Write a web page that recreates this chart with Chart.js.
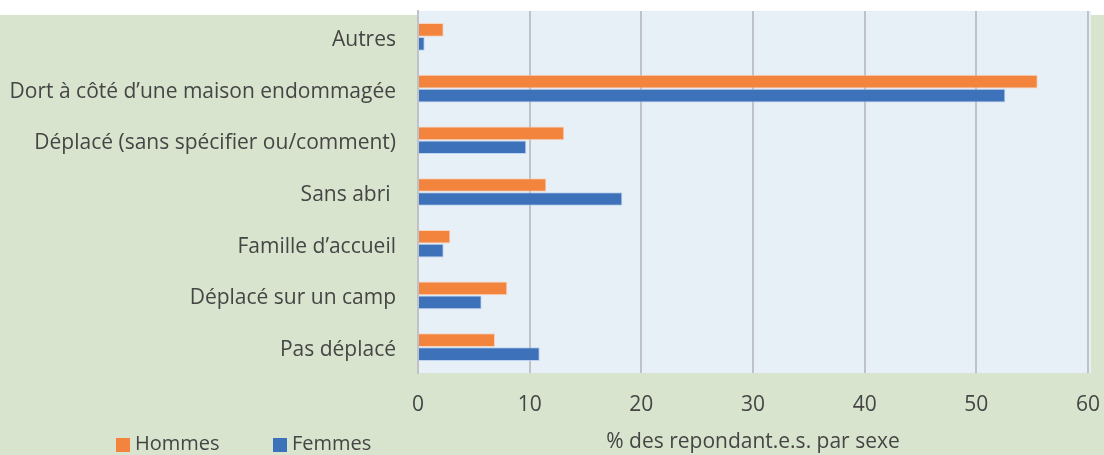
<!DOCTYPE html>
<html lang="fr">
<head>
<meta charset="utf-8">
<script src="https://cdn.jsdelivr.net/npm/chart.js@4.4.1/dist/chart.umd.min.js"></script>
<style>
  html, body { margin: 0; padding: 0; background: #ffffff; }
  #wrap { width: 1104px; height: 455px; position: relative; }
</style>
</head>
<body>
<div id="wrap"><canvas id="chart" width="1104" height="455"></canvas></div>
<script>
// Situation de logement, % des répondant.e.s par sexe
const categories = [
  'Autres',
  'Dort à côté d\u2019une maison endommagée',
  'Déplacé (sans spécifier ou/comment)',
  'Sans abri ',
  'Famille d\u2019accueil',
  'Déplacé sur un camp',
  'Pas déplacé'
];
const hommes = [2.3, 55.5, 13.1, 11.5, 2.9, 8.0, 6.9];
const femmes = [0.6, 52.6, 9.7, 18.3, 2.3, 5.7, 10.9];
const xTicks = [0, 10, 20, 30, 40, 50, 60];
const seriesNames = ['Hommes', 'Femmes'];
const axisTitle = '% des repondant.e.s. par sexe';

const ORANGE = '#F2843D';
const BLUE = '#3D72BA';
const PAGE_GREEN = '#D8E4CD';
const PLOT_BG = '#E8F0F7';
const GRID = '#BFC2C6';
const TEXT = '#454545';
const FONT = '"Open Sans", "Liberation Sans", sans-serif';

// Page background, plot panel, legend and axis title
const decor = {
  id: 'decor',
  beforeDraw(chart) {
    const { ctx, chartArea: a, width, height } = chart;
    ctx.save();
    ctx.fillStyle = '#ffffff';
    ctx.fillRect(0, 0, width, height);
    ctx.fillStyle = PAGE_GREEN;
    ctx.fillRect(0, 15, width, height - 15);
    ctx.fillStyle = PLOT_BG;
    ctx.fillRect(a.left, a.top, a.right - a.left + 3, a.bottom - a.top);
    ctx.restore();
  },
  afterDraw(chart) {
    const { ctx, chartArea: a } = chart;
    ctx.save();
    ctx.fillStyle = TEXT;
    ctx.textBaseline = 'middle';
    // legend
    ctx.font = '20px ' + FONT;
    const items = [
      { x: 116, ds: chart.data.datasets[0] },
      { x: 273, ds: chart.data.datasets[1] }
    ];
    items.forEach(it => {
      ctx.fillStyle = it.ds.backgroundColor;
      ctx.fillRect(it.x, 438, 14, 14);
      ctx.fillStyle = TEXT;
      ctx.textAlign = 'left';
      ctx.fillText(it.ds.label, it.x + 19, 444);
    });
    // axis title
    ctx.font = '21px ' + FONT;
    ctx.textAlign = 'center';
    ctx.fillText(axisTitle, (a.left + a.right) / 2, 442);
    ctx.restore();
  }
};

function noEdgePadding(scale) {
  scale.paddingTop = 0;
  scale.paddingBottom = 0;
  scale.paddingLeft = 0;
  scale.paddingRight = 0;
}

new Chart(document.getElementById('chart'), {
  type: 'bar',
  data: {
    labels: categories,
    datasets: [
      { label: seriesNames[0], data: hommes, backgroundColor: ORANGE,
        borderColor: 'rgba(255,200,170,0.7)', borderWidth: 1 },
      { label: seriesNames[1], data: femmes, backgroundColor: BLUE,
        borderColor: 'rgba(170,200,235,0.7)', borderWidth: 1 }
    ]
  },
  options: {
    indexAxis: 'y',
    responsive: false,
    animation: false,
    events: [],
    layout: { padding: { top: 11, right: 16, left: 0, bottom: 0 } },
    datasets: { bar: { categoryPercentage: 0.54, barPercentage: 0.98 } },
    plugins: { legend: { display: false }, tooltip: { enabled: false } },
    scales: {
      x: {
        min: 0, max: 60,
        afterBuildTicks(scale) { scale.ticks = xTicks.map(v => ({ value: v })); },
        afterFit(scale) { scale.height = 82; noEdgePadding(scale); },
        grid: { color: GRID, lineWidth: 2, drawTicks: false },
        border: { display: false },
        ticks: { color: TEXT, font: { family: FONT, size: 21 }, padding: 19 }
      },
      y: {
        afterFit(scale) { scale.width = 418; noEdgePadding(scale); },
        grid: { display: false, drawTicks: false },
        border: { display: true, color: GRID, width: 2 },
        ticks: { color: TEXT, font: { family: FONT, size: 21 }, padding: 22, labelOffset: 3 }
      }
    }
  },
  plugins: [decor]
});
</script>
</body>
</html>
